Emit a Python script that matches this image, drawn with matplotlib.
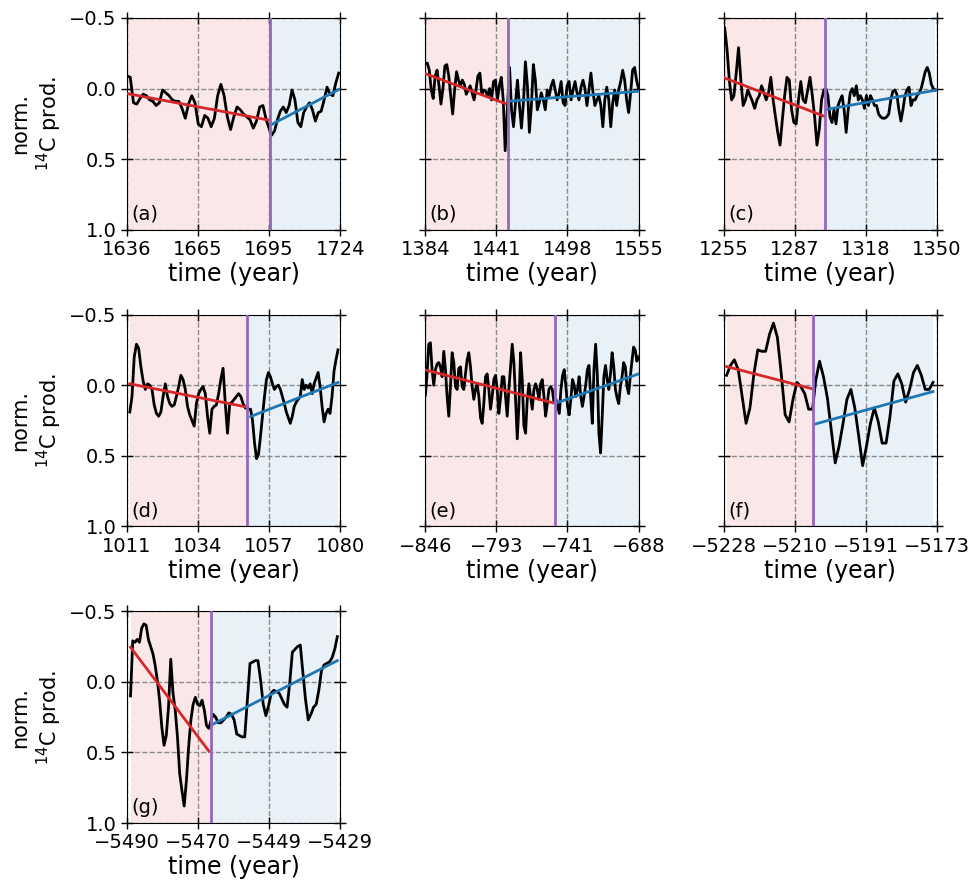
import numpy as np
import matplotlib
matplotlib.use("Agg")
import matplotlib.pyplot as plt
from matplotlib.ticker import FixedLocator, FuncFormatter

# ---- dados (produção de 14C normalizada) ----
labels = ["(a)", "(b)", "(c)", "(d)", "(e)", "(f)", "(g)"]

# limites do eixo x (anos) e ano de corte (linha roxa)
xlims = [(1636, 1724), (1384, 1555), (1255, 1350), (1011, 1080),
         (-846, -688), (-5228, -5173), (-5490, -5429)]
splits = [1695, 1450, 1300, 1050, -750, -5205, -5466]

# inicio / fim dos trechos antes e depois do corte
pre_years = [(1636, 1694.8), (1384, 1448), (1255.4, 1299.6), (1011.9, 1050),
             (-846, -750.7), (-5227.3, -5205.1), (-5489, -5466.6)]
post_years = [(1695.7, 1723.4), (1451.5, 1555), (1300.5, 1349.3), (1051, 1079.3),
              (-749.2, -688), (-5204.3, -5174), (-5465.4, -5429.8)]

pre_a = [-0.09, -0.08, 0.10, 0.11, 0.07, 0.04, 0.05, 0.08, 0.09, 0.12, 0.10, 0.01, 0.03,
         0.05, 0.08, 0.09, 0.09, 0.14, 0.21, 0.11, 0.05, 0.10, 0.25, 0.27, 0.19, 0.21,
         0.27, 0.21, 0.05, -0.03, 0.05, 0.20, 0.29, 0.20, 0.13, 0.15, 0.18, 0.20, 0.22,
         0.28, 0.23, 0.13, 0.12, 0.22, 0.29]
post_a = [0.33, 0.30, 0.22, 0.16, 0.13, 0.17, 0.12, 0.01, 0.08, 0.24, 0.27, 0.17, 0.13,
          0.10, 0.15, 0.23, 0.17, 0.16, 0.08, -0.01, 0.04, 0.05, -0.04, -0.11]

pre_b = [-0.18, -0.18, -0.13, 0.01, 0.07, -0.09, -0.13, -0.02, 0.11, 0.00, -0.16, -0.17,
         -0.09, 0.05, 0.18, 0.01, -0.12, -0.06, -0.02, -0.06, -0.03, 0.04, 0.01, -0.02,
         0.03, 0.08, 0.01, -0.09, -0.11, 0.04, 0.01, 0.02, 0.05, 0.00, 0.08, -0.05, -0.06,
         0.08, -0.02, -0.08, 0.08, 0.44]
post_b = [-0.15, 0.15, 0.27, 0.10, -0.06, 0.12, 0.28, 0.10, -0.19, -0.02, 0.31, 0.12,
          -0.17, -0.06, 0.15, 0.10, 0.03, 0.08, 0.15, 0.01, 0.05, -0.02, -0.06, 0.01, 0.08,
          0.03, -0.05, 0.10, 0.12, -0.02, -0.05, 0.08, 0.01, -0.05, 0.03, 0.08, -0.01,
          -0.06, 0.00, 0.12, 0.01, -0.11, 0.02, 0.12, 0.08, 0.05, 0.12, 0.27, 0.08, -0.01,
          0.08, 0.27, 0.10, 0.01, 0.12, 0.01, -0.05, -0.13, -0.06, 0.08, 0.17, 0.03, -0.13,
          -0.15, -0.06, 0.00]

pre_c = [-0.43, -0.28, -0.06, 0.08, 0.05, -0.11, -0.29, -0.06, 0.12, 0.08, 0.01, 0.05,
         0.09, 0.14, 0.08, 0.05, -0.02, 0.03, 0.08, 0.03, -0.08, 0.08, 0.20, 0.31, 0.40,
         0.22, 0.05, -0.08, -0.06, 0.15, 0.24, 0.25, 0.08, -0.05, 0.08, 0.10, 0.01, -0.08,
         0.05, 0.20, 0.40, 0.29, 0.08, 0.01]
post_c = [0.00, 0.05, 0.20, 0.24, 0.15, 0.25, 0.12, 0.08, 0.05, 0.15, 0.31, 0.15, 0.03,
          0.00, 0.05, -0.02, 0.08, 0.05, 0.08, 0.14, 0.05, 0.12, 0.05, 0.08, 0.12, 0.12,
          0.18, 0.20, 0.21, 0.21, 0.20, 0.18, 0.08, 0.02, 0.01, 0.04, 0.15, 0.23, 0.15,
          0.05, 0.01, -0.01, 0.12, 0.08, 0.08, 0.05, 0.03, 0.00, -0.06, -0.12, -0.15,
          -0.11, -0.03, 0.00, 0.01]

pre_d = [0.19, 0.08, -0.20, -0.29, -0.26, -0.13, -0.03, 0.03, -0.01, 0.00, 0.03, 0.14,
         0.20, 0.22, 0.19, 0.08, -0.01, 0.08, 0.13, 0.15, 0.14, 0.08, 0.01, -0.07, -0.04,
         0.03, 0.15, 0.21, 0.25, 0.29, 0.13, 0.06, 0.03, 0.01, 0.06, 0.22, 0.34, 0.17,
         0.15, 0.14, 0.06, -0.04, -0.12, 0.13, 0.34, 0.13, 0.12, 0.10, 0.08, 0.06, 0.08,
         0.13, 0.16, 0.17]
post_d = [0.17, 0.25, 0.41, 0.52, 0.49, 0.36, 0.22, 0.08, -0.04, -0.09, -0.06, -0.01,
          0.03, 0.01, 0.00, 0.03, 0.08, 0.13, 0.19, 0.23, 0.27, 0.22, 0.15, 0.12, 0.10,
          0.08, -0.04, 0.03, 0.00, 0.02, -0.01, 0.06, -0.01, -0.05, -0.09, 0.01, 0.15,
          0.26, 0.20, 0.17, 0.20, 0.08, -0.10, -0.18, -0.25]

pre_e = [0.07, -0.08, -0.29, -0.30, -0.11, 0.00, -0.11, -0.15, -0.16, -0.13, -0.06, -0.24,
         -0.11, 0.08, 0.22, 0.01, -0.23, -0.16, 0.01, 0.03, -0.12, -0.13, 0.01, 0.03,
         -0.08, -0.18, -0.23, -0.13, 0.01, 0.10, 0.03, -0.01, 0.08, 0.23, 0.27, 0.13,
         -0.06, -0.08, 0.03, 0.17, 0.08, -0.04, -0.07, 0.03, 0.20, 0.09, -0.06, -0.06,
         0.08, 0.22, 0.03, -0.13, -0.29, -0.16, 0.10, 0.38, 0.15, -0.23, -0.04, 0.29,
         0.34, 0.10, -0.01, 0.08, 0.17, 0.03, -0.01, 0.03, 0.10, -0.01, -0.04, 0.08,
         0.22, 0.13, 0.03, 0.01, 0.03, 0.12]
post_e = [0.10, 0.15, 0.20, 0.03, -0.07, -0.11, 0.01, 0.15, 0.21, 0.10, -0.04, 0.00,
          0.08, 0.03, -0.06, 0.08, 0.15, 0.08, 0.00, -0.11, -0.14, 0.08, 0.27, -0.11,
          -0.29, -0.08, 0.34, 0.48, 0.22, -0.06, -0.14, -0.04, 0.03, -0.08, -0.23, -0.13,
          0.03, 0.09, 0.13, 0.01, -0.06, -0.16, -0.13, 0.01, 0.06, -0.06, -0.17, -0.27,
          -0.25, -0.17, -0.20]

pre_f = [-0.07, -0.14, -0.18, -0.11, 0.08, 0.27, 0.16, -0.08, -0.25, -0.24, -0.24, -0.36,
         -0.44, -0.34, -0.08, 0.21, 0.26, 0.10, -0.02, 0.01, 0.06, 0.17, 0.17]
post_f = [-0.03, -0.17, -0.06, 0.09, 0.32, 0.55, 0.43, 0.27, 0.10, 0.03, 0.16, 0.36, 0.57,
          0.43, 0.27, 0.16, 0.26, 0.41, 0.41, 0.22, -0.03, -0.08, -0.01, 0.12, 0.03,
          -0.09, -0.14, -0.07, 0.03, 0.03, -0.02]

pre_g = [0.10, -0.29, -0.28, -0.30, -0.28, -0.38, -0.41, -0.40, -0.30, -0.25, -0.20,
         -0.12, -0.01, 0.13, 0.32, 0.45, 0.38, 0.18, -0.16, 0.08, 0.20, 0.39, 0.65, 0.77,
         0.88, 0.70, 0.46, 0.27, 0.16, 0.11, 0.16, 0.17, 0.13, 0.20, 0.31, 0.33]
post_g = [0.23, 0.25, 0.29, 0.29, 0.27, 0.25, 0.22, 0.23, 0.27, 0.37, 0.38, 0.39, 0.39,
          0.13, -0.13, -0.14, -0.15, -0.15, -0.01, 0.16, 0.24, 0.17, 0.08, 0.06, 0.07,
          0.08, 0.12, 0.16, 0.18, 0.01, -0.21, -0.23, -0.25, -0.26, -0.06, 0.13, 0.27,
          0.23, 0.18, 0.16, 0.06, -0.08, -0.12, -0.13, -0.14, -0.17, -0.23, -0.32]

pre_series = [pre_a, pre_b, pre_c, pre_d, pre_e, pre_f, pre_g]
post_series = [post_a, post_b, post_c, post_d, post_e, post_f, post_g]

# tendencias lineares: valor no inicio e no fim de cada trecho
red_trend = [(0.035, 0.224), (-0.106, 0.106), (-0.075, 0.195), (-0.01, 0.156),
             (-0.108, 0.127), (-0.132, 0.026), (-0.245, 0.49)]
blue_trend = [(0.254, 0.007), (0.089, 0.019), (0.148, 0.012), (0.222, -0.019),
              (0.127, -0.08), (0.274, 0.045), (0.30, -0.15)]


def year_fmt(v, pos):
    return f"{int(round(v))}".replace("-", "\u2212")


def plot_panel(ax, i):
    """Um painel: serie preta, fundos, corte e tendencias"""
    x0, x1 = pre_years[i]
    p0, p1 = post_years[i]
    x_pre = np.linspace(x0, x1, len(pre_series[i]))
    x_post = np.linspace(p0, p1, len(post_series[i]))
    split = splits[i]

    ax.axvspan(x_pre[0], split, color="tab:red", alpha=0.1, lw=0, zorder=0)
    ax.axvspan(split, x_post[-1], color="tab:blue", alpha=0.1, lw=0, zorder=0)

    x_all = np.concatenate([x_pre, x_post])
    y_all = np.concatenate([pre_series[i], post_series[i]])
    ax.plot(x_all, y_all, color="black", lw=2.0, zorder=3)

    ax.plot([x_pre[0], x_pre[-1]], red_trend[i], color="tab:red", lw=2.0, zorder=4)
    ax.plot([x_post[0], x_post[-1]], blue_trend[i], color="tab:blue", lw=2.0, zorder=4)
    ax.axvline(split, color="tab:purple", lw=2.0, zorder=5)

    ax.set_xlim(*xlims[i])
    ax.set_ylim(1.0, -0.5)
    ax.xaxis.set_major_locator(FixedLocator(np.linspace(xlims[i][0], xlims[i][1], 4)))
    ax.xaxis.set_major_formatter(FuncFormatter(year_fmt))
    ax.set_yticks([-0.5, 0.0, 0.5, 1.0])
    ax.grid(True, ls="--", color="gray", lw=1, alpha=0.9)
    ax.tick_params(direction="inout", top=True, right=True, length=8, width=1,
                   labelsize=14)
    ax.set_xlabel("time (year)", fontsize=17, labelpad=2)
    ax.text(0.02, 0.03, labels[i], transform=ax.transAxes, fontsize=14,
            ha="left", va="bottom", zorder=6)

    if i % 3 == 0:
        ax.set_ylabel("norm.\n$^{14}$C prod.", fontsize=15)
    else:
        ax.tick_params(labelleft=False)


fig, axes = plt.subplots(3, 3, figsize=(9.77, 8.81), dpi=100)
fig.subplots_adjust(left=0.130, right=0.959, top=0.9796, bottom=0.0658,
                    wspace=0.40, hspace=0.40)

for i, ax in enumerate(axes.flat):
    if i < len(labels):
        plot_panel(ax, i)
    else:
        ax.remove()

fig.savefig("out.png", dpi=100)
